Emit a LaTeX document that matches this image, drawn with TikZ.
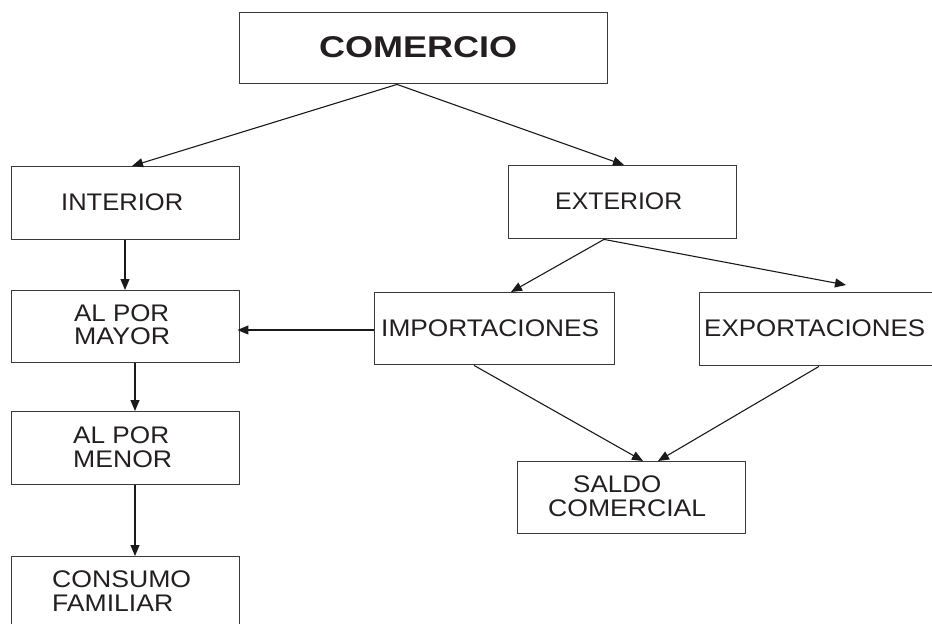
\documentclass[tikz,border=0pt]{standalone}
\usepackage{fontspec}
\setmainfont{Liberation Sans}
\usetikzlibrary{arrows.meta}
\definecolor{boxc}{HTML}{3A3A3A}
\definecolor{txtc}{HTML}{231F20}
\definecolor{linec}{HTML}{1A1A1A}
\newcommand{\fitw}[2]{\resizebox{#1}{\height}{#2}}
\begin{document}
\begin{tikzpicture}[x=1pt,y=-1pt,
  box/.style={draw=boxc, line width=1.4pt, inner sep=0pt, anchor=north west},
  lbl/.style={anchor=base west, inner sep=0pt, font=\fontsize{24}{24}\selectfont, text=txtc},
  ttl/.style={anchor=base west, inner sep=0pt, font=\fontsize{30}{30}\selectfont\bfseries, text=txtc},
  arr/.style={draw=linec, line width=1.1pt, -{Triangle[length=11pt,width=9pt]}}]
\useasboundingbox (0,0) rectangle (932,624);
\clip (0,0) rectangle (932,624);
% boxes
\node[box, minimum width=368pt, minimum height=71pt] (com) at (239,12) {};
\node[box, minimum width=228pt, minimum height=73pt] (int) at (11,166) {};
\node[box, minimum width=228pt, minimum height=73pt] (ext) at (508,165) {};
\node[box, minimum width=228pt, minimum height=72pt] (may) at (11,290) {};
\node[box, minimum width=240pt, minimum height=72pt] (imp) at (374,292) {};
\node[box, minimum width=260pt, minimum height=73pt] (exp) at (699,292) {};
\node[box, minimum width=228pt, minimum height=73pt] (men) at (11,411) {};
\node[box, minimum width=228pt, minimum height=90pt] (con) at (11,556) {};
\node[box, minimum width=228pt, minimum height=72pt] (sal) at (517,461) {};
% labels
\node[ttl] (tcom) at (319,57) {\fitw{198pt}{COMERCIO}};
\node[lbl] (tint) at (61,210) {\fitw{122pt}{INTERIOR}};
\node[lbl] (text) at (555,209) {\fitw{127pt}{EXTERIOR}};
\node[lbl] (tmay1) at (74,321) {\fitw{95pt}{AL POR}};
\node[lbl] (tmay2) at (74,344.5) {\fitw{96pt}{MAYOR}};
\node[lbl] (timp) at (381,336) {\fitw{218pt}{IMPORTACIONES}};
\node[lbl] (texp) at (704,336) {\fitw{221pt}{EXPORTACIONES}};
\node[lbl] (tmen1) at (73,443) {\fitw{96pt}{AL POR}};
\node[lbl] (tmen2) at (73,467) {\fitw{99pt}{MENOR}};
\node[lbl] (tsal1) at (573,492) {\fitw{88pt}{SALDO}};
\node[lbl] (tsal2) at (548,516) {\fitw{158pt}{COMERCIAL}};
\node[lbl] (tcon1) at (52,587) {\fitw{139pt}{CONSUMO}};
\node[lbl] (tcon2) at (52,611) {\fitw{121pt}{FAMILIAR}};
% connectors
\draw[arr] ([xshift=158pt]com.south west) -- ([xshift=121pt]int.north west);
\draw[arr] ([xshift=158pt]com.south west) -- ([xshift=116pt]ext.north west);
\draw[arr] ([xshift=114pt]int.south west) -- ([xshift=114pt]may.north west);
\draw[arr] ([xshift=96pt]ext.south west) -- ([xshift=137pt]imp.north west);
\draw[arr] ([xshift=96pt]ext.south west) -- ([xshift=147pt,yshift=7pt]exp.north west);
\draw[arr] ([yshift=-38pt]imp.north west) -- ([xshift=-3pt,yshift=-40pt]may.north east);
\draw[arr] ([xshift=124pt]may.south west) -- ([xshift=124pt]men.north west);
\draw[arr] ([xshift=124pt]men.south west) -- ([xshift=124pt]con.north west);
\draw[arr] ([xshift=100pt]imp.south west) -- ([xshift=126pt]sal.north west);
\draw[arr] ([xshift=120pt]exp.south west) -- ([xshift=141pt]sal.north west);
\end{tikzpicture}
\end{document}
